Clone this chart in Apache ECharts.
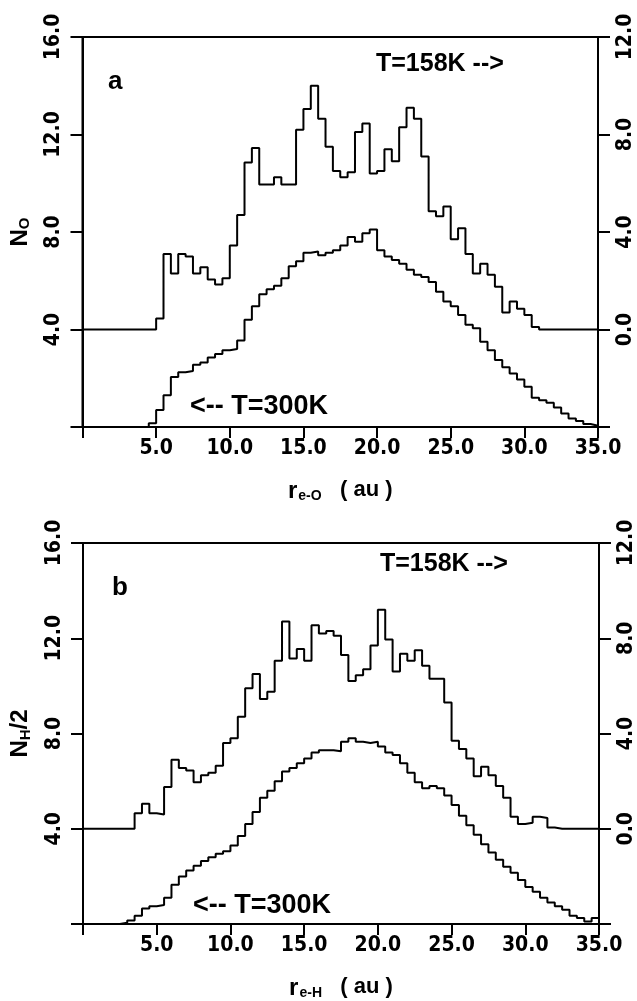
<!DOCTYPE html>
<html>
<head>
<meta charset="utf-8">
<script src="https://cdn.jsdelivr.net/npm/echarts@6/dist/echarts.min.js"></script>
<style>
  html, body { margin: 0; padding: 0; background: #fff; }
  #chart { width: 637px; height: 1001px; }
</style>
</head>
<body>
<div id="chart"></div>
<script>
// largeur des classes de l'histogramme (au), 70 classes de 0 à 35
const binWidth = 0.5;

const a300 = [
  0, 0, 0, 0, 0, 0, 0, 0, 0, 0.15,
  0.7, 1.3, 2.05, 2.25, 2.3, 2.55, 2.65, 2.85, 3.0, 3.15,
  3.2, 3.55, 4.4, 4.95, 5.45, 5.65, 5.8, 6.1, 6.6, 6.8,
  7.15, 7.2, 7.05, 7.15, 7.25, 7.45, 7.8, 7.6, 7.95, 8.1,
  7.25, 7.0, 6.85, 6.7, 6.45, 6.25, 6.15, 5.95, 5.55, 5.15,
  4.95, 4.6, 4.2, 4.05, 3.5, 3.15, 2.75, 2.45, 2.2, 1.95,
  1.65, 1.2, 1.1, 1.0, 0.8, 0.55, 0.35, 0.25, 0.12, 0.05
];

const a158 = [
  0, 0, 0, 0, 0, 0, 0, 0, 0, 0,
  0.45, 3.1, 2.3, 3.1, 3.0, 2.3, 2.55, 2.05, 1.85, 2.1,
  3.45, 4.7, 6.85, 7.45, 5.95, 5.95, 6.25, 5.95, 5.95, 8.2,
  9.05, 10.0, 8.65, 7.5, 6.5, 6.25, 6.45, 8.1, 8.45, 6.4,
  6.5, 7.4, 6.9, 8.3, 9.1, 8.65, 7.1, 4.85, 4.65, 5.05,
  3.7, 4.15, 3.1, 2.3, 2.7, 2.25, 1.75, 0.7, 1.15, 0.85,
  0.6, 0.1, 0, 0, 0, 0, 0, 0, 0, 0
];

// panneau b : N_H/2, T=300K (axe de gauche)
const b300 = [
  0, 0, 0, 0, 0, 0.05, 0.15, 0.35, 0.65, 0.75,
  0.8, 1.1, 1.65, 2.0, 2.25, 2.45, 2.65, 2.8, 2.95, 3.05,
  3.3, 3.7, 4.2, 4.7, 5.3, 5.6, 6.0, 6.4, 6.55, 6.75,
  6.95, 7.2, 7.3, 7.3, 7.25, 7.65, 7.8, 7.65, 7.6, 7.65,
  7.45, 7.2, 7.1, 6.75, 6.35, 5.95, 5.7, 5.8, 5.7, 5.4,
  5.0, 4.55, 4.15, 3.75, 3.35, 3.0, 2.7, 2.4, 2.15, 1.85,
  1.55, 1.35, 1.1, 0.9, 0.75, 0.6, 0.35, 0.25, 0.1, 0.25
];

// panneau b : T=158K (axe de droite)
const b158 = [
  0, 0, 0, 0, 0, 0, 0, 0.65, 1.05, 0.65,
  0.6, 1.75, 2.9, 2.55, 2.45, 1.95, 2.25, 2.35, 2.65, 3.6,
  3.8, 4.7, 5.9, 6.5, 5.45, 5.75, 7.05, 8.7, 7.15, 7.55,
  7.05, 8.55, 8.2, 8.3, 8.1, 7.3, 6.2, 6.45, 6.7, 7.7,
  9.2, 7.95, 6.6, 7.35, 7.05, 7.5, 6.85, 6.3, 6.3, 5.3,
  3.7, 3.35, 2.95, 2.2, 2.6, 2.25, 1.8, 1.3, 0.5, 0.2,
  0.25, 0.5, 0.45, 0.05, 0, 0, 0, 0, 0, 0
];

const tickFont = "'Liberation Sans Narrow', 'DejaVu Sans Condensed', 'Liberation Sans', sans-serif";
const textFont = "'Liberation Sans', Arial, sans-serif";

// transforme les classes en points pour une ligne en escalier
function steps(values) {
  const pts = values.map((v, i) => [i * binWidth, v]);
  pts.push([values.length * binWidth, values[values.length - 1]]);
  return pts;
}

const labelStyle = {
  color: '#000',
  fontFamily: tickFont,
  fontWeight: 'bold',
  fontSize: 21
};
const lineBlack = { color: '#000', width: 2 };

function xAxisFor(gridIndex, sub) {
  return {
    type: 'value',
    gridIndex: gridIndex,
    min: 0,
    max: 35,
    interval: 5,
    axisLine: { show: true, lineStyle: lineBlack },
    axisTick: { show: true, length: 11, lineStyle: lineBlack },
    axisLabel: Object.assign({ margin: 11, formatter: v => (v === 0 ? '' : v.toFixed(1)) }, labelStyle),
    splitLine: { show: false },
    name: '{r|r}{s|' + sub + '}{t|   ( au )}',
    nameLocation: 'middle',
    nameGap: 50,
    nameTextStyle: {
      rich: {
        r: { fontFamily: textFont, fontWeight: 'bold', fontSize: 24, color: '#000', verticalAlign: 'bottom' },
        s: { fontFamily: textFont, fontWeight: 'bold', fontSize: 14, color: '#000', padding: [12, 0, 0, 1] },
        t: { fontFamily: textFont, fontWeight: 'bold', fontSize: 22, color: '#000' }
      }
    }
  };
}

function leftAxisFor(gridIndex, name) {
  return {
    type: 'value',
    gridIndex: gridIndex,
    position: 'left',
    min: 0,
    max: 16,
    interval: 4,
    axisLine: { show: true, lineStyle: lineBlack },
    axisTick: { show: true, length: 12, lineStyle: lineBlack },
    axisLabel: Object.assign({ rotate: 90, margin: 18, formatter: v => (v === 0 ? '' : v.toFixed(1)) }, labelStyle),
    splitLine: { show: false },
    name: name,
    nameLocation: 'middle',
    nameRotate: 90,
    nameGap: 50,
    nameTextStyle: {
      rich: {
        n: { fontFamily: textFont, fontWeight: 'bold', fontSize: 24, color: '#000' },
        s: { fontFamily: textFont, fontWeight: 'bold', fontSize: 15, color: '#000', padding: [10, 0, 0, 0] }
      }
    }
  };
}

function rightAxisFor(gridIndex) {
  // échelle décalée : 0.0 à droite = 4.0 à gauche
  return {
    type: 'value',
    gridIndex: gridIndex,
    position: 'right',
    min: -4,
    max: 12,
    interval: 4,
    axisLine: { show: true, lineStyle: lineBlack },
    axisTick: { show: true, length: 12, lineStyle: lineBlack },
    axisLabel: Object.assign({ rotate: 90, margin: 17, formatter: v => (v === -4 ? '' : v.toFixed(1)) }, labelStyle),
    splitLine: { show: false }
  };
}

function stepSeries(values, xi, yi) {
  return {
    type: 'line',
    step: 'end',
    xAxisIndex: xi,
    yAxisIndex: yi,
    data: steps(values),
    showSymbol: false,
    silent: true,
    lineStyle: { color: '#000', width: 2 }
  };
}

function label(text, x, y, size) {
  return {
    type: 'text',
    x: x,
    y: y,
    silent: true,
    style: {
      text: text,
      fill: '#000',
      font: 'bold ' + size + 'px ' + textFont,
      align: 'left',
      verticalAlign: 'middle'
    }
  };
}

const option = {
  animation: false,
  backgroundColor: '#fff',
  grid: [
    { left: 80, top: 37, width: 518, height: 390, show: true, borderColor: '#000', borderWidth: 2 },
    { left: 83, top: 543, width: 518, height: 385, show: true, borderColor: '#000', borderWidth: 2 }
  ],
  xAxis: [xAxisFor(0, 'e-O'), xAxisFor(1, 'e-H')],
  yAxis: [
    leftAxisFor(0, '{n|N}{s|O}'),
    rightAxisFor(0),
    leftAxisFor(1, '{n|N}{s|H}{n|/2}'),
    rightAxisFor(1)
  ],
  series: [
    stepSeries(a300, 0, 0),
    stepSeries(a158, 0, 1),
    stepSeries(b300, 1, 2),
    stepSeries(b158, 1, 3)
  ],
  graphic: [
    label('a', 108, 82, 26),
    label('T=158K -->', 376, 64, 25),
    label('<-- T=300K', 190, 407, 27),
    label('b', 112, 588, 26),
    label('T=158K -->', 380, 564, 25),
    label('<-- T=300K', 193, 906, 27)
  ]
};

const chart = echarts.init(document.getElementById('chart'));
chart.setOption(option);
</script>
</body>
</html>
